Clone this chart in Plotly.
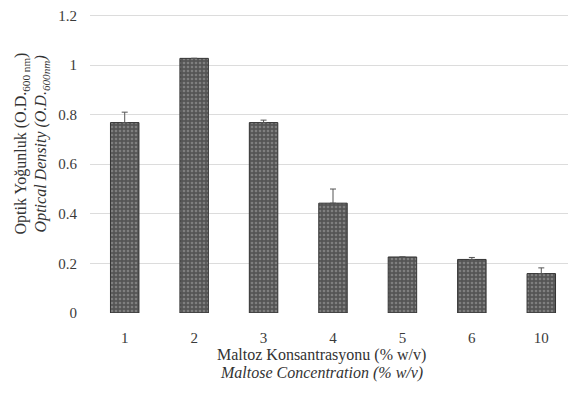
import plotly.graph_objects as go

categories = ["1", "2", "3", "4", "5", "6", "10"]
od_values = [0.768, 1.027, 0.768, 0.443, 0.226, 0.216, 0.159]
od_errors = [0.042, 0.0, 0.010, 0.057, 0.0, 0.008, 0.023]
y_ticks = [0, 0.2, 0.4, 0.6, 0.8, 1.0, 1.2]
y_tick_labels = ["0", "0.2", "0.4", "0.6", "0.8", "1", "1.2"]

font_family = "Liberation Serif"
title_size = 16

fig = go.Figure()
fig.add_trace(go.Bar(
    x=categories,
    y=od_values,
    width=0.41,
    marker=dict(
        color="#555555",
        line=dict(color="#333333", width=1),
        pattern=dict(shape=".", fgcolor="#aaaaaa", bgcolor="#555555", size=4, solidity=0.35),
    ),
    error_y=dict(type="data", array=od_errors, symmetric=False, arrayminus=[0]*len(od_errors),
                 visible=True, color="#555555", thickness=1, width=3),
    showlegend=False,
))

fig.update_layout(
    width=568, height=394,
    margin=dict(l=82, r=0, t=3, b=89),
    paper_bgcolor="white", plot_bgcolor="white",
    font=dict(family=font_family, size=15, color="#3a3a3a"),
    xaxis=dict(
        type="category", showgrid=False, zeroline=False, showline=False,
        ticks="", tickfont=dict(family=font_family, size=15, color="#3a3a3a"),
        ticklabelstandoff=14,
    ),
    yaxis=dict(
        range=[0, 1.21], tickvals=y_ticks, ticktext=y_tick_labels,
        showgrid=True, gridcolor="#dcdcdc", gridwidth=1,
        zeroline=False, showline=False, ticks="",
        tickfont=dict(family=font_family, size=15, color="#3a3a3a"),
        ticklabelstandoff=12, ticklabeloverflow="allow",
    ),
    annotations=[
        dict(text="Optik Yoğunluk (O.D.<sub>600 nm</sub>)", xref="paper", yref="paper",
             x=-0.140, y=0.565, xanchor="center", yanchor="middle", showarrow=False, textangle=-90,
             font=dict(family=font_family, size=title_size, color="#333333")),
        dict(text="<i>Optical Density (O.D.<sub>600nm</sub>)</i>", xref="paper", yref="paper",
             x=-0.099, y=0.565, xanchor="center", yanchor="middle", showarrow=False, textangle=-90,
             font=dict(family=font_family, size=title_size, color="#333333")),
        dict(text="Maltoz Konsantrasyonu (% w/v)", xref="paper", yref="paper",
             x=0.477, y=-0.140, xanchor="center", yanchor="middle", showarrow=False,
             font=dict(family=font_family, size=title_size, color="#333333")),
        dict(text="<i>Maltose Concentration (% w/v)</i>", xref="paper", yref="paper",
             x=0.477, y=-0.201, xanchor="center", yanchor="middle", showarrow=False,
             font=dict(family=font_family, size=title_size, color="#333333")),
    ],
)

fig.write_html("out.html")
